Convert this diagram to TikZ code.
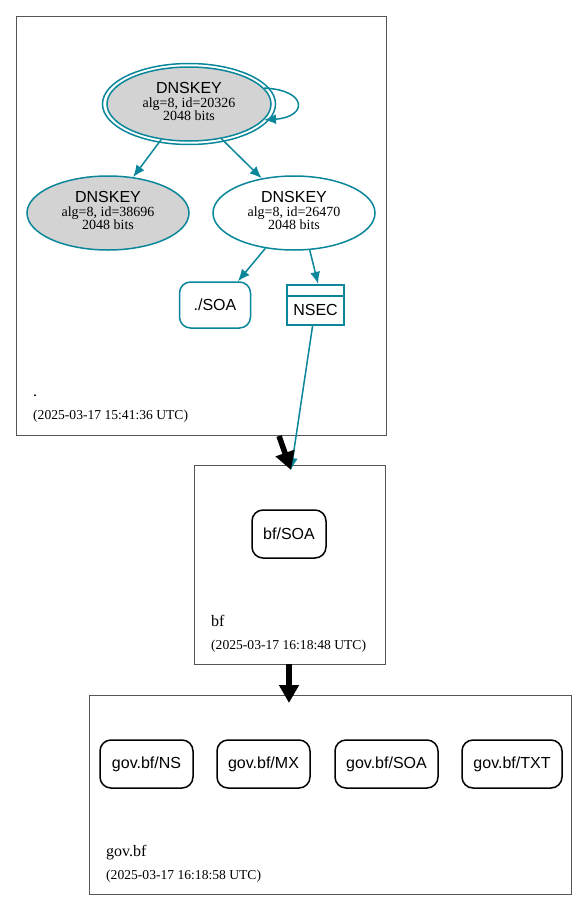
\documentclass[tikz,border=0pt]{standalone}
\usepackage{fontspec}
\setmainfont{Liberation Serif}
\newfontfamily\hv{Liberation Sans}
\usetikzlibrary{shapes.geometric,arrows.meta}
\definecolor{sec}{HTML}{0A879A}
\definecolor{keyfill}{HTML}{D3D3D3}
\definecolor{zoneline}{HTML}{555555}
\tikzset{
  zone/.style={draw=zoneline, line width=0.7pt},
  key/.style={ellipse, draw=sec, line width=1.5pt, minimum width=162pt, minimum height=74pt, inner sep=0pt},
  ktitle/.style={anchor=base, inner sep=0pt, font=\hv\fontsize{16}{18}\selectfont},
  kline/.style={anchor=base, inner sep=0pt, font=\fontsize{14}{16}\selectfont},
  rr/.style={rounded corners=11pt, draw=sec, line width=1.5pt, minimum height=46pt, inner sep=0pt, font=\hv\fontsize{16}{18}\selectfont},
  rrb/.style={rr, draw=black},
  secarrow/.style={draw=sec, line width=1.5pt, -{Latex[length=12pt,width=10pt]}},
  deleg/.style={draw=black, line width=5.5pt, -{Triangle[length=18pt,width=19pt]}},
  lbl/.style={anchor=base west, inner sep=0pt, font=\fontsize{16}{18}\selectfont},
  tstamp/.style={anchor=base west, inner sep=0pt, font=\fontsize{13.6}{16}\selectfont},
}
\begin{document}
\begin{tikzpicture}[x=1pt,y=-1pt]
\useasboundingbox[fill=white] (0,0) rectangle (588,910);
% zones
\draw[zone] (16,16) rectangle (386,435);
\draw[zone] (194,465) rectangle (385,664);
\draw[zone] (89,695) rectangle (571,894);
\node[lbl] (l1) at (33,396) {.};
\node[tstamp] (t1) at (33,419) {(2025-03-17 15:41:36 UTC)};
\node[lbl] (l2) at (211,626) {bf};
\node[tstamp] (t2) at (211,649) {(2025-03-17 16:18:48 UTC)};
\node[lbl] (l3) at (106,856) {gov.bf};
\node[tstamp] (t3) at (106,879) {(2025-03-17 16:18:58 UTC)};
% zone anchors
\coordinate (z1b) at (279,436);
\coordinate (z2t) at (291,470);
\coordinate (z2b) at (289,664);
\coordinate (z3t) at (289,703);
% keys
\node[key, fill=keyfill, minimum width=164pt, minimum height=74pt] (ksk) at (189,104) {};
\draw[sec, line width=1.5pt] (ksk.center) ellipse [x radius=86.5, y radius=40.5];
\node[key, fill=keyfill] (k2) at (108,213) {};
\node[key, fill=white] (zsk) at (294,213) {};
\foreach \k/\id in {ksk/20326, k2/38696, zsk/26470} {
  \node[ktitle] (\k-t) at ([yshift=10.7pt]\k.center) {DNSKEY};
  \node[kline] (\k-a) at ([yshift=-3.3pt]\k.center) {alg=8, id=\id};
  \node[kline] (\k-b) at ([yshift=-16pt]\k.center) {2048 bits};
}
% records
\node[rr, minimum width=71pt] (soa) at (215,305) {./SOA};
\node[draw=sec, line width=2.2pt, minimum width=57pt, minimum height=40pt, inner sep=0pt] (nsec) at (315.5,305) {};
\draw[sec, line width=2.2pt] (286.5,296) -- (344.5,296);
\node[font=\hv\fontsize{16}{18}\selectfont, inner sep=0pt] (nsect) at (315.5,310) {NSEC};
\node[rrb, minimum width=74pt, minimum height=48pt] (bfsoa) at (289,534) {bf/SOA};
\node[rrb, minimum width=93pt, minimum height=48pt] (ns) at (146.5,764) {gov.bf/NS};
\node[rrb, minimum width=93pt, minimum height=48pt] (mx) at (263.5,764) {gov.bf/MX};
\node[rrb, minimum width=103pt, minimum height=48pt] (gsoa) at (386.5,764) {gov.bf/SOA};
\node[rrb, minimum width=100pt, minimum height=48pt] (txt) at (512,764) {gov.bf/TXT};
% edges
\draw[secarrow] (ksk.12) .. controls (308,90) and (308,117) .. (ksk.-12);
\draw[secarrow] (ksk.-128) -- (k2.55);
\draw[secarrow] (ksk.-47) -- (zsk.133);
\draw[secarrow] (zsk.-129) -- (soa.46);
\draw[secarrow] (zsk.-67) -- (nsec.83);
\draw[secarrow] (nsec.-98) -- (z2t);
\draw[deleg] (z1b) -- (z2t);
\draw[deleg] (z2b) -- (z3t);
\end{tikzpicture}
\end{document}
